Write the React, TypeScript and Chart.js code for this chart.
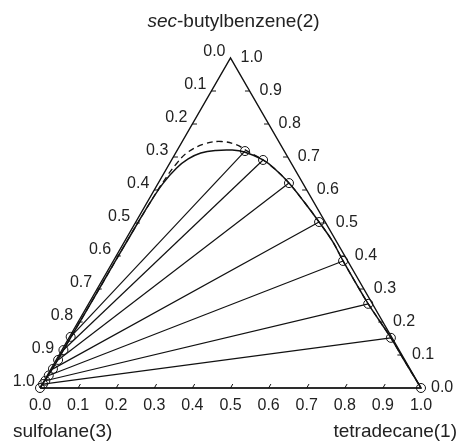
import React, { useEffect, useRef } from "react";
import { Chart, registerables } from "chart.js";

Chart.register(...registerables);

// Compositions: x1 = tetradecane(1), x2 = sec-butylbenzene(2), x3 = sulfolane(3)
const raffinateX1 = [0.179, 0.240, 0.343, 0.481, 0.603, 0.734, 0.845, 1.0];
const raffinateX2 = [0.718, 0.691, 0.621, 0.503, 0.385, 0.255, 0.152, 0.0];
const extractX1 = [0.003, 0.004, 0.005, 0.005, 0.004, 0.003, 0.002, 0.0];
const extractX2 = [0.155, 0.115, 0.085, 0.058, 0.038, 0.022, 0.012, 0.0];

const solidX1 = [0.0, 0.003, 0.004, 0.005, 0.006, 0.008, 0.013, 0.025, 0.042, 0.066, 0.102, 0.144, 0.179, 0.240, 0.290, 0.343, 0.410, 0.481, 0.545, 0.603, 0.670, 0.734, 0.790, 0.845, 0.920, 1.0];
const solidX2 = [0.0, 0.050, 0.150, 0.300, 0.450, 0.560, 0.620, 0.666, 0.694, 0.712, 0.720, 0.721, 0.715, 0.691, 0.660, 0.621, 0.565, 0.503, 0.445, 0.385, 0.318, 0.255, 0.203, 0.152, 0.078, 0.0];

const dashedX1 = [0.0, 0.003, 0.004, 0.005, 0.006, 0.008, 0.011, 0.018, 0.031, 0.063, 0.102, 0.148, 0.179, 0.240, 0.290, 0.343, 0.410, 0.481, 0.545, 0.603, 0.670, 0.734, 0.790, 0.845, 0.920, 1.0];
const dashedX2 = [0.0, 0.050, 0.150, 0.300, 0.450, 0.560, 0.625, 0.678, 0.715, 0.740, 0.747, 0.737, 0.721, 0.691, 0.660, 0.621, 0.565, 0.503, 0.445, 0.385, 0.318, 0.255, 0.203, 0.152, 0.078, 0.0];

const tickValues = [0, 0.1, 0.2, 0.3, 0.4, 0.5, 0.6, 0.7, 0.8, 0.9, 1.0];
const tickLabels = ["0.0", "0.1", "0.2", "0.3", "0.4", "0.5", "0.6", "0.7", "0.8", "0.9", "1.0"];

const titleTop = ["sec", "-butylbenzene(2)"];
const titleLeft = "sulfolane(3)";
const titleRight = "tetradecane(1)";

const S = Math.sqrt(3) / 2;
const toXY = (x1: number, x2: number) => ({ x: x1 + x2 / 2, y: x2 * S });

const FONT = '"Liberation Sans", Arial, Helvetica, sans-serif';
const INK = "#111";
const TEXT = "#222";

const ternaryPlugin = {
  id: "ternaryDecor",
  afterDatasetsDraw(chart: any) {
    const { ctx } = chart;
    const xs = chart.scales.x;
    const ys = chart.scales.y;
    const px = (x1: number, x2: number) => [
      xs.getPixelForValue(x1 + x2 / 2),
      ys.getPixelForValue(x2 * S),
    ];
    ctx.save();
    ctx.strokeStyle = INK;
    ctx.lineWidth = 1;
    const d = 0.012;
    tickValues.forEach((v) => {
      if (v <= 0 || v >= 1) return;
      let a = px(v, 0), b = px(v, d);
      ctx.beginPath(); ctx.moveTo(a[0], a[1]); ctx.lineTo(b[0], b[1]); ctx.stroke();
      a = px(0, 1 - v); b = px(d, 1 - v);
      ctx.beginPath(); ctx.moveTo(a[0], a[1]); ctx.lineTo(b[0], b[1]); ctx.stroke();
      a = px(1 - v, v); b = px(1 - v - d, v);
      ctx.beginPath(); ctx.moveTo(a[0], a[1]); ctx.lineTo(b[0], b[1]); ctx.stroke();
    });

    ctx.fillStyle = TEXT;
    ctx.font = `16px ${FONT}`;
    ctx.textBaseline = "middle";
    tickValues.forEach((v, i) => {
      const lab = tickLabels[i];
      let p = px(v, 0);
      ctx.textAlign = "center";
      ctx.fillText(lab, p[0], p[1] + 18);
      p = px(0, 1 - v);
      ctx.textAlign = "right";
      ctx.fillText(lab, p[0] - 5, p[1] - 6);
      p = px(1 - v, v);
      ctx.textAlign = "left";
      ctx.fillText(lab, p[0] + 10, p[1]);
    });

    const apex = px(0, 1);
    ctx.font = `italic 19px ${FONT}`;
    const w1 = ctx.measureText(titleTop[0]).width;
    ctx.font = `19px ${FONT}`;
    const w2 = ctx.measureText(titleTop[1]).width;
    const startX = apex[0] + 3 - (w1 + w2) / 2;
    ctx.textAlign = "left";
    ctx.font = `italic 19px ${FONT}`;
    ctx.fillText(titleTop[0], startX, apex[1] - 36);
    ctx.font = `19px ${FONT}`;
    ctx.fillText(titleTop[1], startX + w1, apex[1] - 36);

    const bl = px(0, 0);
    const br = px(1, 0);
    ctx.textAlign = "left";
    ctx.fillText(titleLeft, bl[0] - 27, bl[1] + 44);
    ctx.textAlign = "right";
    ctx.fillText(titleRight, br[0] + 36, br[1] + 44);
    ctx.restore();
  },
};

export default function App() {
  const ref = useRef<HTMLCanvasElement | null>(null);
  useEffect(() => {
    if (!ref.current) return;
    const edges = [toXY(0, 0), toXY(1, 0), toXY(0, 1), toXY(0, 0)];
    const tieSets = raffinateX1.map((_, i) => ({
      type: "line" as const,
      data: [toXY(extractX1[i], extractX2[i]), toXY(raffinateX1[i], raffinateX2[i])],
      borderColor: INK,
      borderWidth: 1.2,
      pointRadius: 0,
      tension: 0,
      showLine: true,
      fill: false,
      clip: false as any,
    }));
    const chart = new Chart(ref.current, {
      type: "scatter",
      data: {
        datasets: [
          {
            type: "line",
            data: edges,
            borderColor: INK,
            borderWidth: 1.4,
            pointRadius: 0,
            tension: 0,
            showLine: true,
            fill: false,
            clip: false as any,
          },
          ...tieSets,
          {
            type: "line",
            data: solidX1.map((v, i) => toXY(v, solidX2[i])),
            borderColor: INK,
            borderWidth: 1.5,
            pointRadius: 0,
            tension: 0.4,
            showLine: true,
            fill: false,
            clip: false as any,
          },
          {
            type: "line",
            data: dashedX1.map((v, i) => toXY(v, dashedX2[i])),
            borderColor: INK,
            borderWidth: 1.3,
            borderDash: [6, 4],
            pointRadius: 0,
            tension: 0.4,
            showLine: true,
            fill: false,
            clip: false as any,
          },
          {
            data: raffinateX1.map((v, i) => toXY(v, raffinateX2[i])),
            pointRadius: 4.5,
            pointStyle: "circle",
            pointBackgroundColor: "rgba(0,0,0,0)",
            pointBorderColor: INK,
            pointBorderWidth: 1,
            showLine: false,
            clip: false as any,
          },
          {
            data: extractX1.map((v, i) => toXY(v, extractX2[i])),
            pointRadius: 4.5,
            pointStyle: "circle",
            pointBackgroundColor: "rgba(0,0,0,0)",
            pointBorderColor: INK,
            pointBorderWidth: 1,
            showLine: false,
            clip: false as any,
          },
        ] as any,
      },
      options: {
        animation: false,
        responsive: false,
        maintainAspectRatio: false,
        layout: { padding: { left: 40, right: 37, top: 58, bottom: 54 } },
        plugins: { legend: { display: false }, tooltip: { enabled: false } },
        scales: {
          x: { type: "linear", min: 0, max: 1, display: false },
          y: { type: "linear", min: 0, max: S, display: false },
        },
      },
      plugins: [ternaryPlugin],
    });
    return () => chart.destroy();
  }, []);
  return (
    <div style={{ position: "fixed", left: 0, top: 0, width: 458, height: 442, background: "#fff" }}>
      <canvas ref={ref} width={458} height={442} />
    </div>
  );
}
